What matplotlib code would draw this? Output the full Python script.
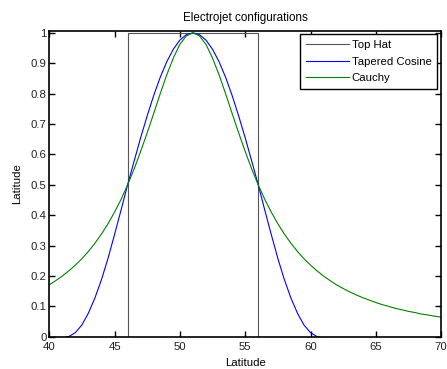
import matplotlib.pyplot as plt

plt.rcParams['font.family'] = ['Liberation Sans', 'DejaVu Sans']
plt.rcParams['font.size'] = 8.2

# top hat: 1 between 46 and 56, 0 elsewhere
hat_x = [40, 46, 46, 56, 56, 70]
hat_y = [0, 0, 1, 1, 0, 0]

# tapered cosine
cos_x = [41.3, 41.5, 42, 42.5, 43, 43.5, 44, 44.5, 45, 45.5, 46, 46.5, 47, 47.5,
         48, 48.5, 49, 49.5, 50, 50.5, 51, 51.5, 52, 52.5, 53, 53.5, 54, 54.5,
         55, 55.5, 56, 56.5, 57, 57.5, 58, 58.5, 59, 59.5, 60, 60.5, 60.7]
cos_y = [0.0, 0.001, 0.014, 0.039, 0.078, 0.128, 0.188, 0.258, 0.336, 0.417,
         0.5, 0.578, 0.655, 0.727, 0.794, 0.854, 0.905, 0.946, 0.976, 0.994,
         1.0, 0.994, 0.976, 0.946, 0.905, 0.854, 0.794, 0.727, 0.655, 0.578,
         0.5, 0.417, 0.336, 0.258, 0.188, 0.128, 0.078, 0.039, 0.014, 0.001, 0.0]

# cauchy, every half degree from 40 to 70
cau_x = [40 + 0.5 * i for i in range(61)]
cau_y = [0.171, 0.185, 0.200, 0.217, 0.236, 0.257, 0.281, 0.308, 0.338, 0.372,
         0.410, 0.452, 0.500, 0.552, 0.610, 0.671, 0.735, 0.800, 0.862, 0.917,
         0.962, 0.990, 1.000, 0.990, 0.962, 0.917, 0.862, 0.800, 0.735, 0.671,
         0.610, 0.552, 0.500, 0.452, 0.410, 0.372, 0.338, 0.308, 0.281, 0.257,
         0.236, 0.217, 0.200, 0.185, 0.171, 0.159, 0.148, 0.138, 0.129, 0.121,
         0.113, 0.106, 0.100, 0.094, 0.089, 0.084, 0.080, 0.075, 0.072, 0.068,
         0.065]

fig = plt.figure(figsize=(4.47, 3.69), dpi=100)
ax = fig.add_axes([0.110, 0.087, 0.877, 0.829])

ax.plot(hat_x, hat_y, color='#555555', lw=0.8, label='Top Hat')
ax.plot(cos_x, cos_y, color='#0000ff', lw=0.8, label='Tapered Cosine')
ax.plot(cau_x, cau_y, color='#008000', lw=0.8, label='Cauchy')

ax.set_xlim(40, 70)
ax.set_ylim(0, 1.006)
ax.set_xticks([40, 45, 50, 55, 60, 65, 70])
ax.set_yticks([0, 0.1, 0.2, 0.3, 0.4, 0.5, 0.6, 0.7, 0.8, 0.9, 1])
ax.set_yticklabels(['0', '0.1', '0.2', '0.3', '0.4', '0.5', '0.6', '0.7', '0.8', '0.9', '1'])
ax.tick_params(direction='in', top=True, right=True, length=4, width=1, pad=2,
               labelcolor='#222222')
ax.tick_params(axis='x', pad=4)
for s in ax.spines.values():
    s.set_linewidth(1.2)

ax.set_title('Electrojet configurations', fontsize=8.4, pad=7)
ax.set_xlabel('Latitude', labelpad=4)
ax.set_ylabel('Latitude', labelpad=6)

leg = ax.legend(loc='upper right', bbox_to_anchor=(0.99, 0.99), fancybox=False,
                edgecolor='black', handlelength=3.8, borderpad=0.5, labelspacing=0.6,
                handletextpad=0.2, borderaxespad=0, framealpha=1)
leg.get_frame().set_linewidth(1.0)

fig.savefig('out.png', dpi=100)
